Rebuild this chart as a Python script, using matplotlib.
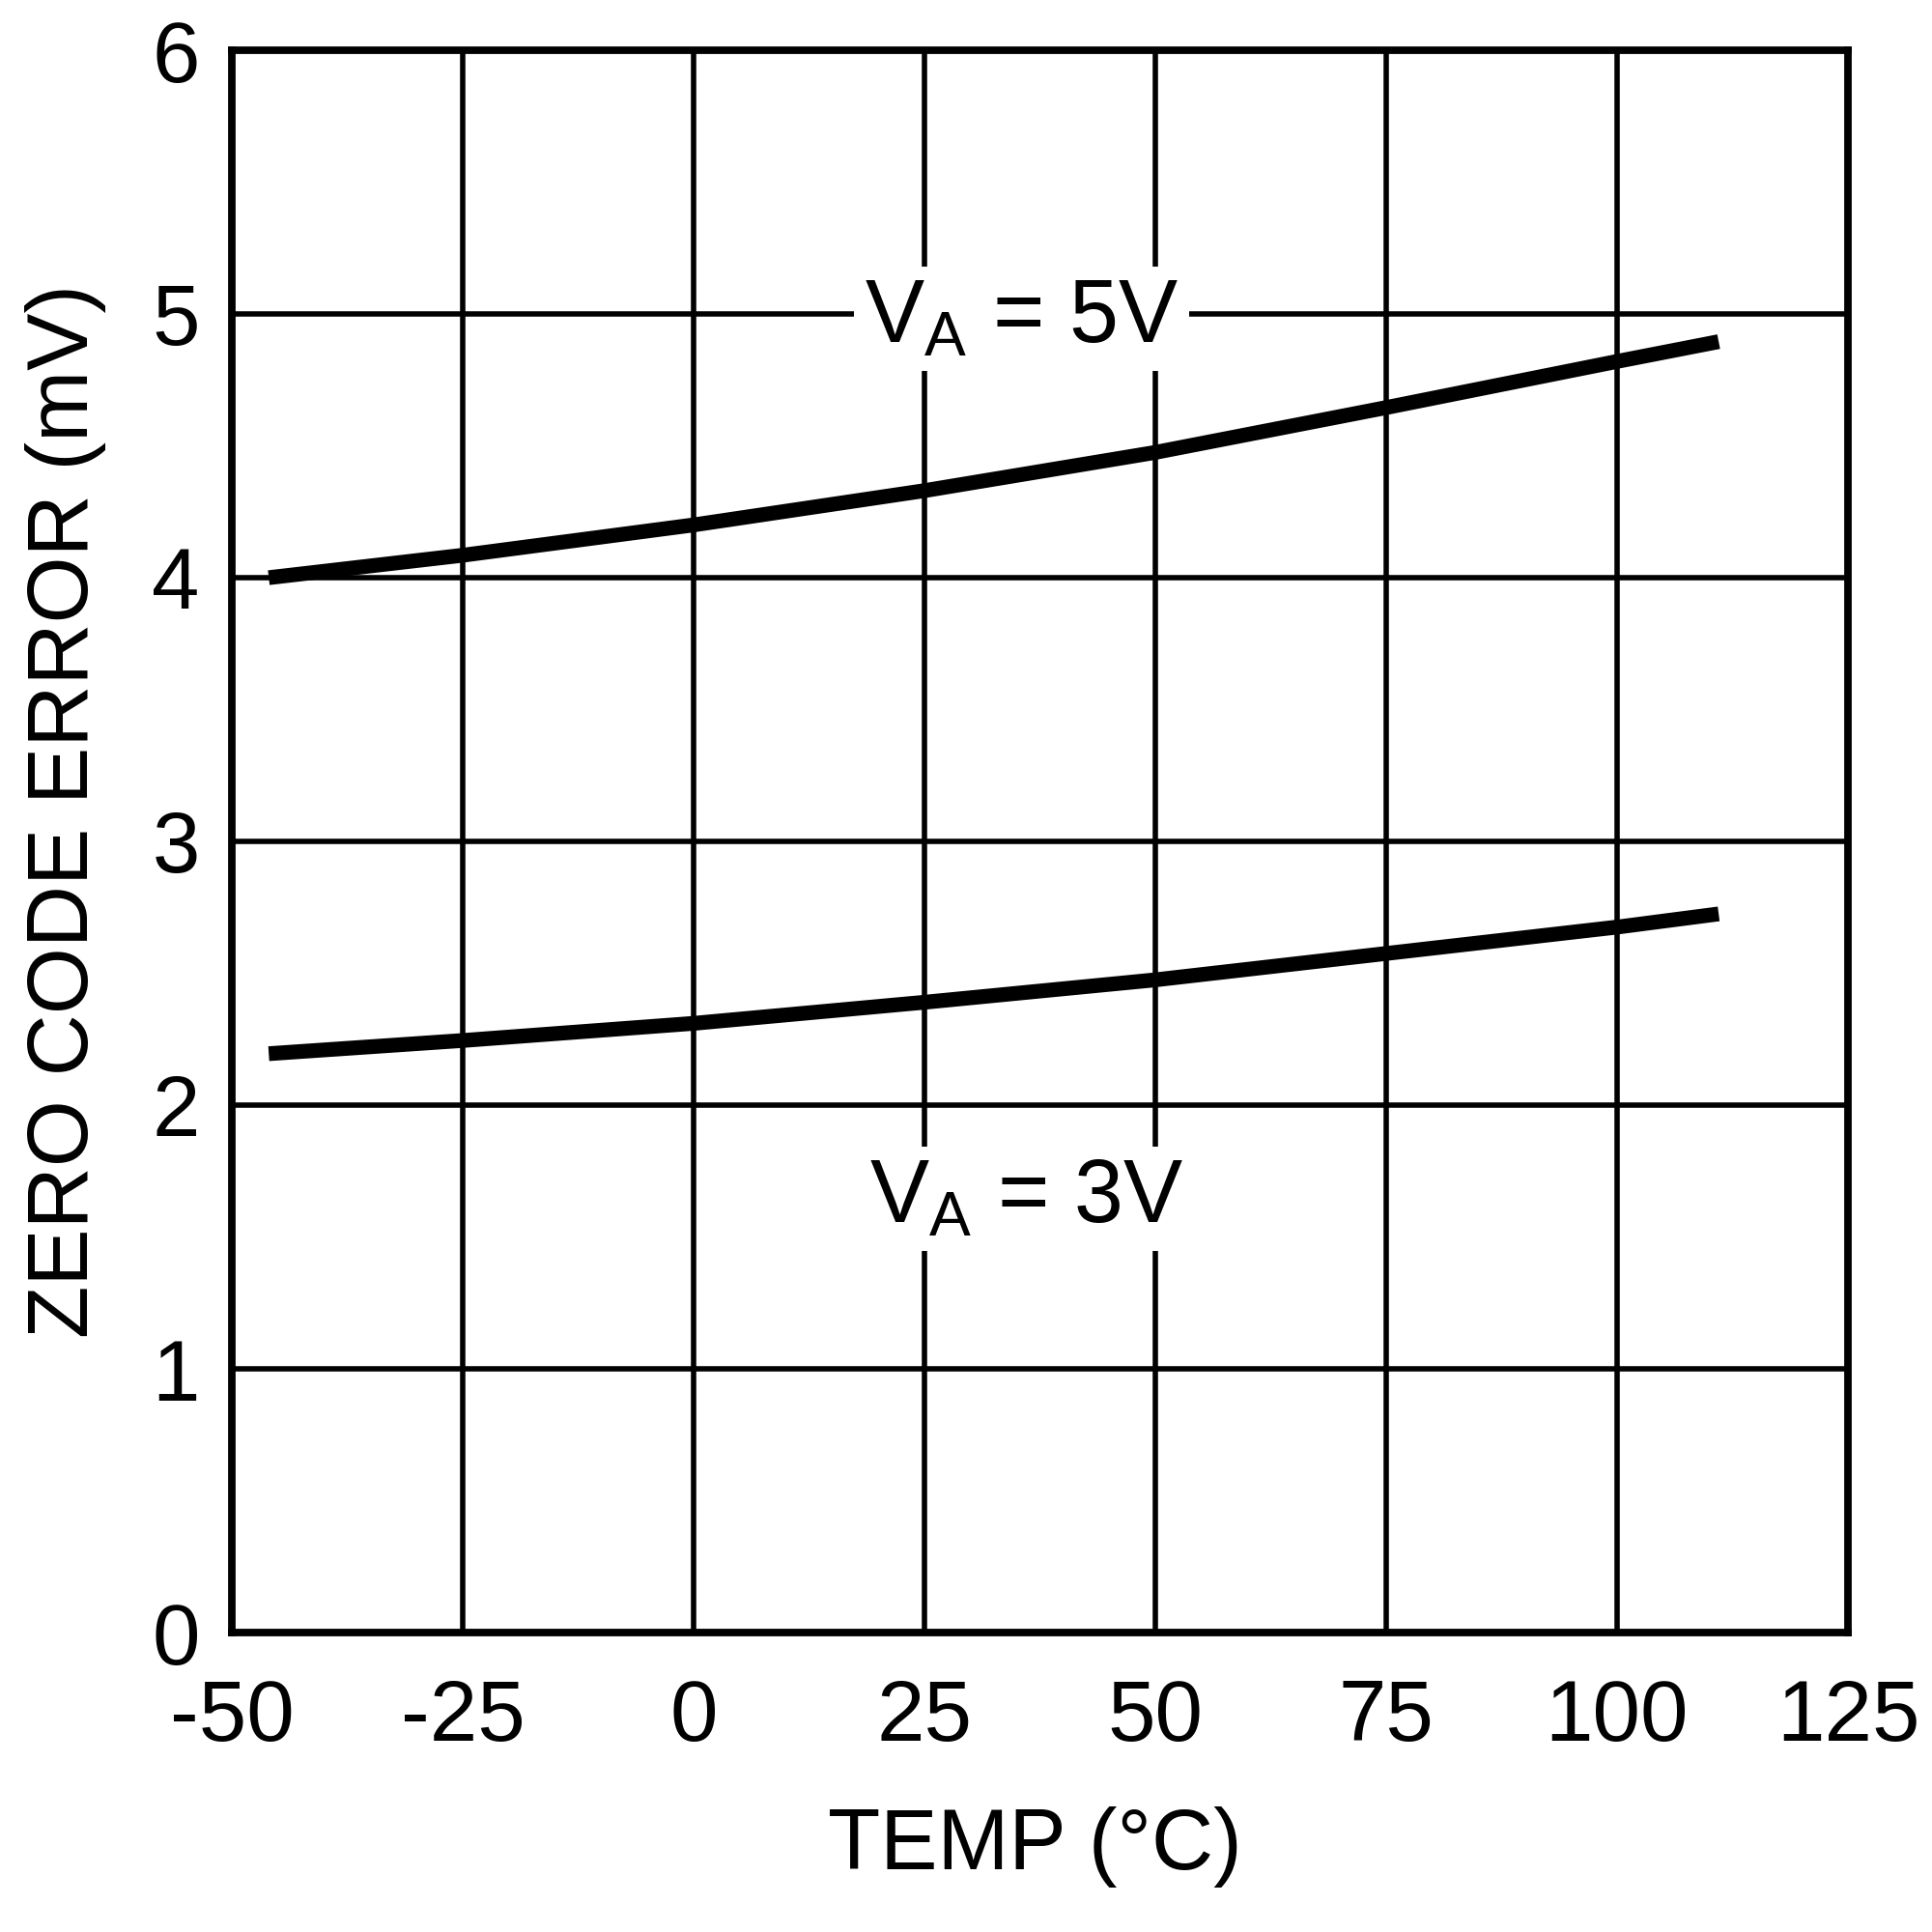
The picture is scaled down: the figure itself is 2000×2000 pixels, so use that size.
import numpy as np
import matplotlib
matplotlib.use("Agg")
import matplotlib.pyplot as plt

plt.rcParams['font.family'] = ['Liberation Sans', 'DejaVu Sans']
plt.rcParams['mathtext.fontset'] = 'custom'
plt.rcParams['mathtext.rm'] = 'Liberation Sans'
plt.rcParams['mathtext.it'] = 'Liberation Sans'
plt.rcParams['axes.unicode_minus'] = False

# data
temp = [-46, -25, 0, 25, 50, 75, 100, 111]
err_5v = [4.00, 4.085, 4.20, 4.33, 4.475, 4.645, 4.82, 4.895]
err_3v = [2.195, 2.245, 2.31, 2.39, 2.475, 2.575, 2.675, 2.725]

xticks = [-50, -25, 0, 25, 50, 75, 100, 125]
yticks = [0, 1, 2, 3, 4, 5, 6]

fig = plt.figure(figsize=(10, 10), dpi=200)
ax = fig.add_axes([0.12, 0.155, 0.8365, 0.819])

ax.plot(temp, err_5v, color='black', lw=5.5, solid_capstyle='butt', zorder=3)
ax.plot(temp, err_3v, color='black', lw=5.5, solid_capstyle='butt', zorder=3)

ax.set_xlim(-50, 125)
ax.set_ylim(0, 6)
ax.set_xticks(xticks)
ax.set_yticks(yticks)
ax.grid(True, color='black', lw=2.0, zorder=1)
ax.set_axisbelow(True)
for s in ax.spines.values():
    s.set_linewidth(2.8)
    s.set_zorder(4)
ax.tick_params(axis='both', length=0, labelsize=32)
ax.tick_params(axis='y', pad=12)
ax.tick_params(axis='x', pad=17)

ax.set_xlabel('TEMP (°C)', fontsize=32)
ax.set_ylabel('ZERO CODE ERROR (mV)', fontsize=32)
ax.xaxis.set_label_coords(0.497, -0.11)
ax.yaxis.set_label_coords(-0.0775, 0.519)

box = dict(facecolor='white', edgecolor='none', pad=4)
ax.text(35.5, 4.98, r'V$_\mathregular{A}$ = 5V', fontsize=33, ha='center', va='center',
        bbox=box, zorder=2)
ax.text(36, 1.645, r'V$_\mathregular{A}$ = 3V', fontsize=33, ha='center', va='center',
        bbox=box, zorder=2)

fig.savefig('out.png', dpi=200)
